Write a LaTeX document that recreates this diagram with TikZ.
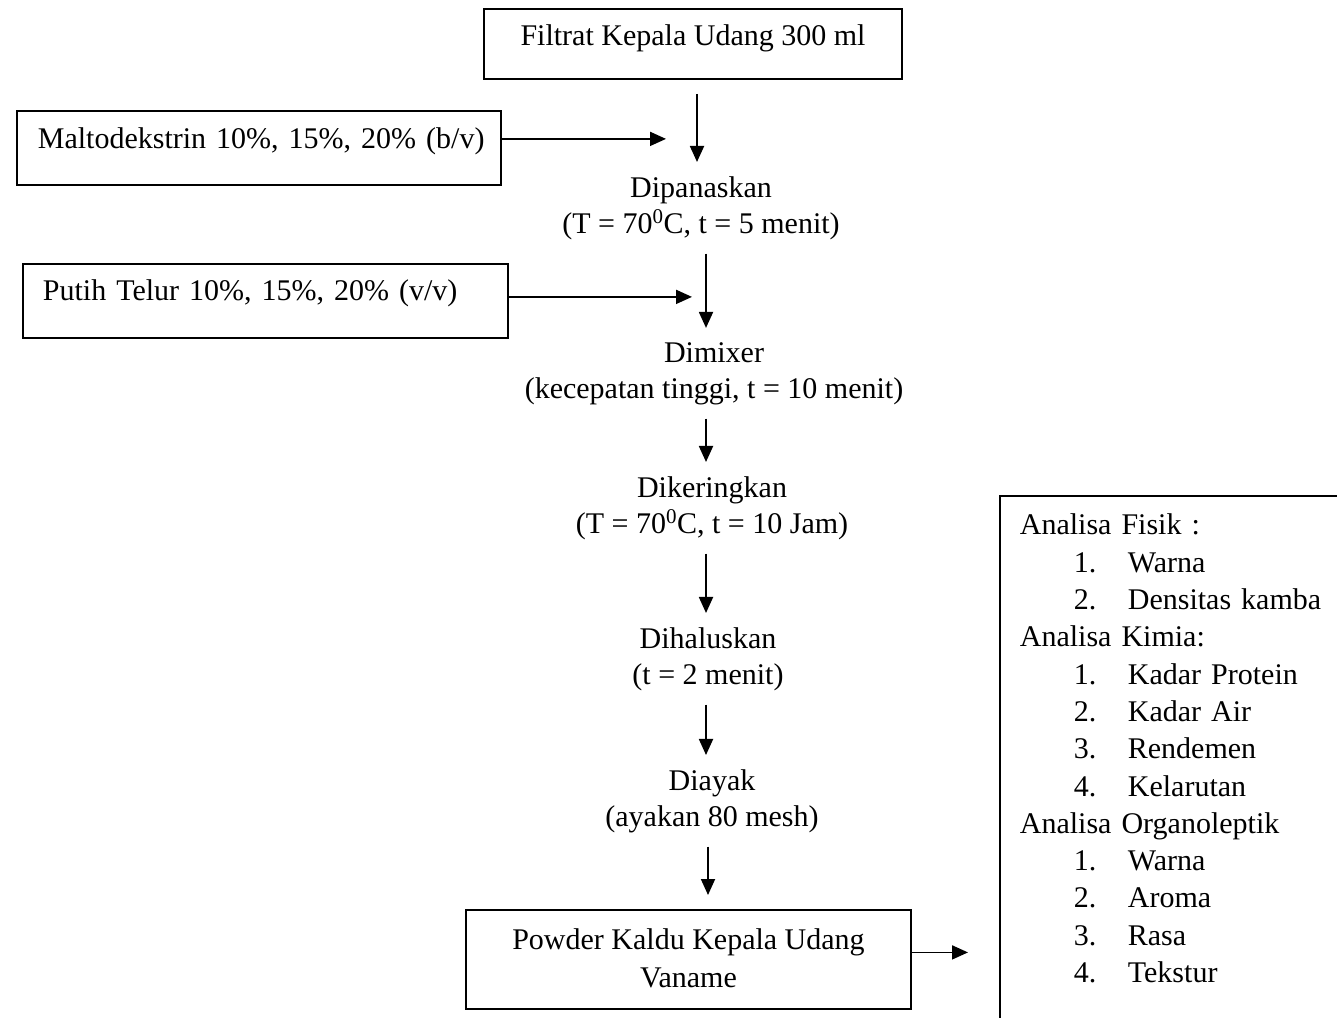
\documentclass[tikz,border=0pt]{standalone}
\usepackage{fontspec}
\setmainfont{Liberation Serif}
\usetikzlibrary{arrows.meta}
\newcommand{\anitem}[2]{\hspace*{54pt}\makebox[54pt][l]{#1}#2}

\begin{document}
\begin{tikzpicture}[x=1pt, y=-1pt,
  txt/.style={font=\fontsize{30}{36}\selectfont\frenchspacing, inner sep=0pt},
  box/.style={txt, draw, line width=1.8pt},
  stepnode/.style={txt, align=center, anchor=base},
  flow/.style={line width=1.8pt, -{Triangle[length=16pt, width=14pt]}, shorten <=14pt, shorten >=14pt}]
\useasboundingbox (0,0) rectangle (1337,1017);
\coordinate (spine) at (706,0);
\node[box, anchor=north, minimum width=418pt, text height=37pt, text depth=33pt] (filtrat) at (693,8) {Filtrat Kepala Udang 300 ml};
\node[box, anchor=north west, align=left, text width=442pt, inner xsep=21pt, text height=38pt, text depth=36pt] (malto) at (16,110) {\mbox{Maltodekstrin 10\%, 15\%, 20\% (b/v)}};
\node[box, anchor=north west, align=left, text width=445pt, inner xsep=20pt, text height=37pt, text depth=37pt] (putih) at (22,263) {\mbox{Putih Telur 10\%, 15\%, 20\% (v/v)}};
\node[stepnode] (panas) at (701,233) {Dipanaskan\\(T = 70\textsuperscript{0}C, t = 5 menit)};
\node[stepnode] (mixer) at (714,398) {Dimixer\\(kecepatan tinggi, t = 10 menit)};
\node[stepnode] (kering) at (712,533) {Dikeringkan\\(T = 70\textsuperscript{0}C, t = 10 Jam)};
\node[stepnode] (halus) at (708,684) {Dihaluskan\\(t = 2 menit)};
\node[stepnode] (ayak) at (712,826) {Diayak\\(ayakan 80 mesh)};
\node[box, anchor=north, align=center, minimum width=445pt, text height=78pt, text depth=21pt, font=\fontsize{30}{38}\selectfont] (powder) at (688.5,909) {Powder Kaldu Kepala Udang\\Vaname};
\node[box, anchor=north west, align=left, text width=330pt, inner xsep=20pt, text height=39pt, text depth=560pt, font=\fontsize{30}{37.3}\selectfont\frenchspacing] (analisa) at (999,495) {Analisa Fisik :\\
\anitem{1.}{Warna}\\
\anitem{2.}{Densitas kamba}\\
Analisa Kimia:\\
\anitem{1.}{Kadar Protein}\\
\anitem{2.}{Kadar Air}\\
\anitem{3.}{Rendemen}\\
\anitem{4.}{Kelarutan}\\
Analisa Organoleptik\\
\anitem{1.}{Warna}\\
\anitem{2.}{Aroma}\\
\anitem{3.}{Rasa}\\
\anitem{4.}{Tekstur}};
\draw[flow] ([xshift=4pt]filtrat.south) -- ([xshift=4pt]filtrat.south |- panas.north);
\draw[flow] (panas.south -| spine) -- (mixer.north -| spine);
\draw[flow] (mixer.south -| spine) -- (kering.north -| spine);
\draw[flow] (kering.south -| spine) -- (halus.north -| spine);
\draw[flow] (halus.south -| spine) -- (ayak.north -| spine);
\draw[flow] ([xshift=2pt]ayak.south -| spine) -- ([xshift=2pt]powder.north -| spine);
\draw[flow, shorten <=0pt, shorten >=31pt] ([yshift=9pt]malto.east) -- ([yshift=9pt,xshift=4pt]malto.east -| filtrat.south);
\draw[flow, shorten <=0pt, shorten >=14pt] ([yshift=4pt]putih.east) -- ([yshift=4pt]putih.east -| spine);
\draw[flow, shorten <=0pt, shorten >=31pt] ([yshift=7pt]powder.east) -- ([yshift=7pt]powder.east -| analisa.west);
\end{tikzpicture}
\end{document}
